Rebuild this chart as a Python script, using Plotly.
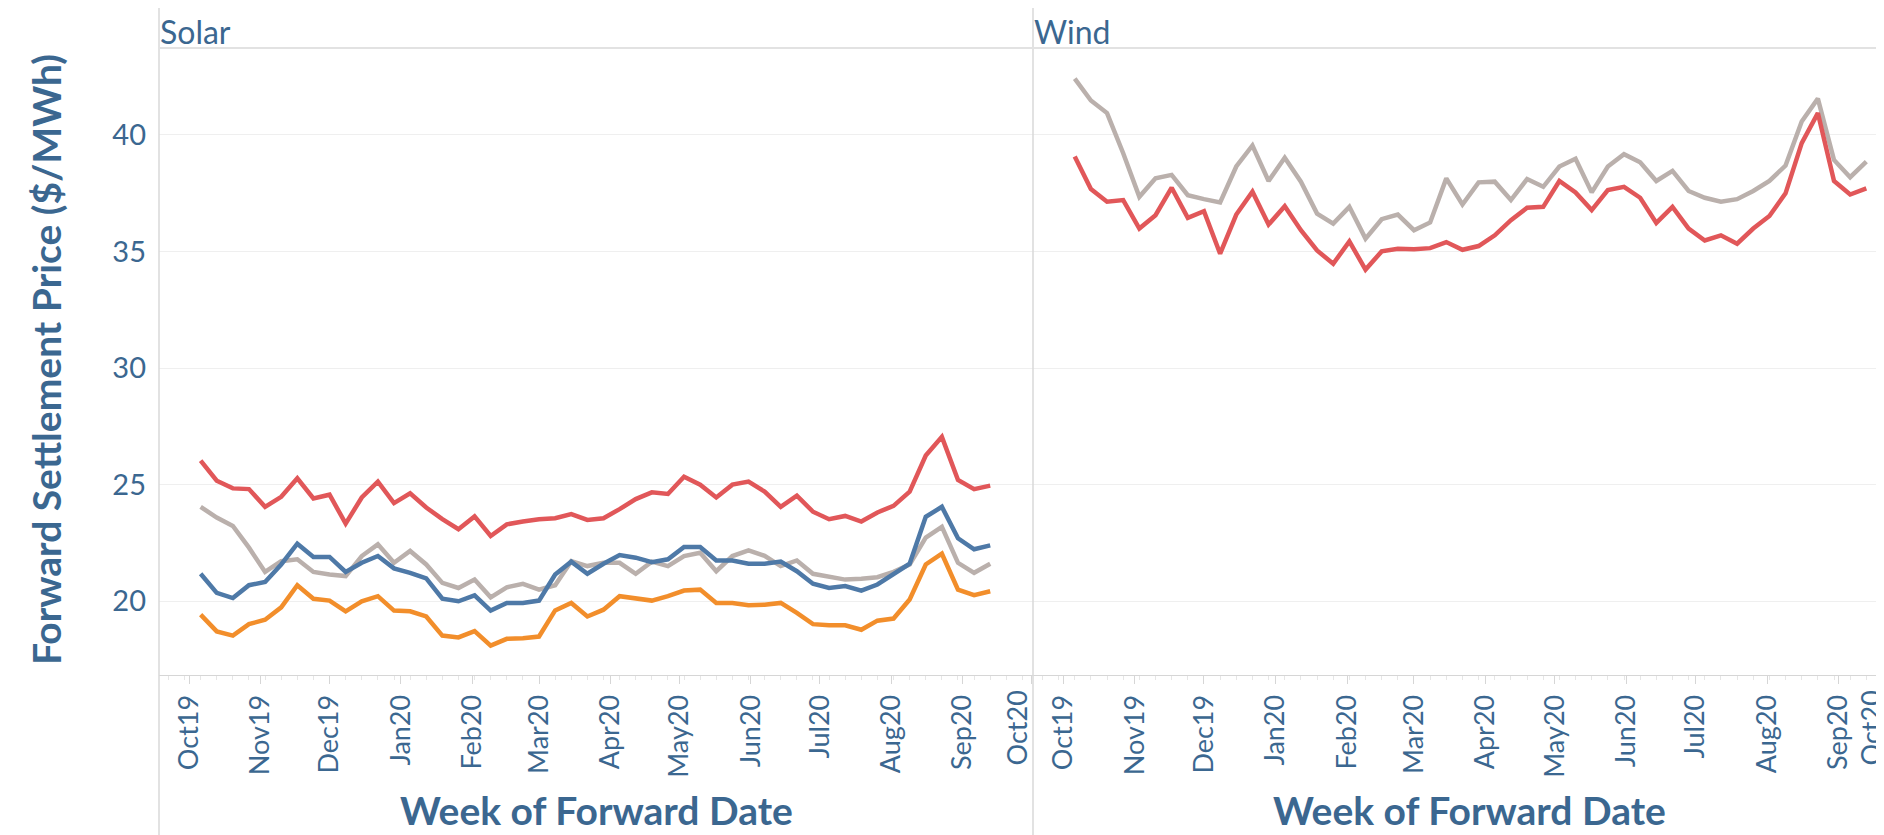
import pandas as pd
import plotly.graph_objects as go

# Weekly forward dates (week starting Sunday)
weeks = pd.date_range("2019-10-06", periods=50, freq="7D")

# Solar panel ($/MWh)
solar_red = [26.03, 25.17, 24.84, 24.81, 24.05, 24.48, 25.27, 24.41, 24.57, 23.33,
             24.45, 25.13, 24.21, 24.63, 24.02, 23.52, 23.09, 23.64, 22.80, 23.30,
             23.42, 23.52, 23.56, 23.74, 23.49, 23.56, 23.95, 24.38, 24.67, 24.60,
             25.34, 25.00, 24.45, 25.00, 25.13, 24.70, 24.05, 24.53, 23.84, 23.52,
             23.66, 23.42, 23.81, 24.09, 24.70, 26.25, 27.05, 25.20, 24.81, 24.96]
solar_gray = [24.05, 23.59, 23.23, 22.30, 21.26, 21.72, 21.80, 21.26, 21.15, 21.08,
              21.94, 22.44, 21.65, 22.16, 21.58, 20.79, 20.57, 20.93, 20.17, 20.60,
              20.75, 20.50, 20.69, 21.72, 21.51, 21.65, 21.65, 21.18, 21.70, 21.51,
              21.94, 22.08, 21.29, 21.94, 22.18, 21.95, 21.51, 21.75, 21.18, 21.03,
              20.93, 20.97, 21.03, 21.26, 21.58, 22.73, 23.19, 21.65, 21.22, 21.61]
solar_blue = [21.18, 20.36, 20.14, 20.69, 20.83, 21.58, 22.47, 21.90, 21.90, 21.26,
              21.65, 21.94, 21.41, 21.22, 20.98, 20.11, 20.00, 20.25, 19.60, 19.93,
              19.93, 20.03, 21.15, 21.70, 21.18, 21.61, 21.98, 21.87, 21.68, 21.80,
              22.33, 22.33, 21.75, 21.75, 21.61, 21.61, 21.70, 21.29, 20.75, 20.57,
              20.65, 20.46, 20.72, 21.15, 21.61, 23.62, 24.05, 22.70, 22.23, 22.40]
solar_orange = [19.43, 18.71, 18.53, 19.02, 19.21, 19.74, 20.69, 20.11, 20.03, 19.57,
                20.00, 20.22, 19.60, 19.57, 19.35, 18.53, 18.45, 18.72, 18.10, 18.39,
                18.42, 18.49, 19.61, 19.93, 19.35, 19.64, 20.22, 20.11, 20.03, 20.22,
                20.46, 20.50, 19.93, 19.93, 19.83, 19.85, 19.93, 19.50, 19.02, 18.97,
                18.97, 18.78, 19.17, 19.26, 20.08, 21.58, 22.04, 20.50, 20.26, 20.43]

# Wind panel
wind_gray = [42.41, 41.47, 40.93, 39.21, 37.34, 38.13, 38.28, 37.41, 37.24, 37.10,
             38.64, 39.54, 38.02, 39.02, 37.99, 36.62, 36.19, 36.91, 35.55, 36.38,
             36.58, 35.91, 36.24, 38.13, 37.01, 37.96, 37.99, 37.20, 38.10, 37.77,
             38.64, 38.97, 37.53, 38.64, 39.17, 38.82, 38.02, 38.45, 37.59, 37.30,
             37.13, 37.24, 37.59, 38.02, 38.68, 40.57, 41.55, 38.92, 38.18, 38.85]
wind_red = [39.07, 37.67, 37.13, 37.20, 35.98, 36.55, 37.73, 36.44, 36.72, 34.90,
            36.58, 37.56, 36.15, 36.94, 35.91, 35.04, 34.47, 35.43, 34.22, 35.00,
            35.11, 35.09, 35.14, 35.40, 35.07, 35.23, 35.69, 36.34, 36.87, 36.91,
            38.02, 37.53, 36.77, 37.63, 37.77, 37.30, 36.22, 36.91, 35.98, 35.47,
            35.69, 35.33, 35.98, 36.52, 37.49, 39.64, 40.93, 38.02, 37.44, 37.70]

y_ticks = [20, 25, 30, 35, 40]

RED, GRAY, BLUE, ORANGE = "#e15759", "#bab0ac", "#4e79a7", "#f28e2b"
TXT = "#3b6790"
FONT = "Lato"
W, H = 1884, 835


def fx(p):
    return p / W


def fy(p):
    return 1 - p / H


fig = go.Figure()

for vals, col in [(solar_gray, GRAY), (solar_blue, BLUE), (solar_orange, ORANGE), (solar_red, RED)]:
    fig.add_trace(go.Scatter(x=weeks, y=vals, mode="lines", line=dict(color=col, width=4.5),
                             xaxis="x", yaxis="y", showlegend=False))
for vals, col in [(wind_gray, GRAY), (wind_red, RED)]:
    fig.add_trace(go.Scatter(x=weeks, y=vals, mode="lines", line=dict(color=col, width=4.5),
                             xaxis="x2", yaxis="y2", showlegend=False))

xcommon = dict(
    type="date", tickformat="%b%y", dtick="M1", tick0="2019-10-01", tickangle=-90,
    ticks="outside", ticklen=8, tickcolor="#d6d6d6", showline=True, linecolor="#d6d6d6",
    showgrid=False, zeroline=False, tickfont=dict(family=FONT, size=27, color=TXT),
    ticklabeloverflow="hide past domain",
    minor=dict(ticks="outside", ticklen=4, dtick=7 * 86400000, tick0="2019-10-06",
               tickcolor="#e6e6e6", showgrid=False),
)
ycommon = dict(
    range=[16.84, 43.72], tickvals=y_ticks, showgrid=True, gridcolor="#efefef",
    zeroline=False, showline=False, ticks="",
)

fig.update_layout(
    width=W, height=H, margin=dict(l=0, r=0, t=0, b=0),
    paper_bgcolor="white", plot_bgcolor="white",
    xaxis=dict(domain=[fx(151), fx(1025)], range=["2019-09-17 22:00", "2020-10-01 14:00"],
               anchor="y", **xcommon),
    xaxis2=dict(domain=[fx(1025), 1], range=["2019-09-17 22:00", "2020-09-24 03:00"],
                anchor="y2", **xcommon),
    yaxis=dict(domain=[fy(667), fy(40)], anchor="x", ticklabelstandoff=12,
               tickfont=dict(family=FONT, size=29, color=TXT), **ycommon),
    yaxis2=dict(domain=[fy(667), fy(40)], anchor="x2", matches="y", showticklabels=False,
                **ycommon),
)

# panel borders and header separator
line_col = "#d9d9d9"
shapes = [
    dict(type="line", xref="paper", yref="paper", x0=fx(151), x1=fx(151), y0=0, y1=1,
         line=dict(color=line_col, width=1.5)),
    dict(type="line", xref="paper", yref="paper", x0=fx(1025), x1=fx(1025), y0=0, y1=1,
         line=dict(color=line_col, width=1.5)),
    dict(type="line", xref="paper", yref="paper", x0=fx(151), x1=1, y0=fy(40), y1=fy(40),
         line=dict(color="#e2e2e2", width=2)),
]
fig.update_layout(shapes=shapes)

title_font = dict(family=FONT, size=39, color=TXT, weight="bold")
tick_font = dict(family=FONT, size=27, color=TXT)
annotations = [
    dict(text="Solar", x=fx(150), y=fy(45), xref="paper", yref="paper", xanchor="left",
         yanchor="bottom", showarrow=False, font=dict(family=FONT, size=32, color=TXT)),
    dict(text="Wind", x=fx(1024), y=fy(45), xref="paper", yref="paper", xanchor="left",
         yanchor="bottom", showarrow=False, font=dict(family=FONT, size=32, color=TXT)),
    dict(text="Forward Settlement Price ($/MWh)", x=fx(38), y=fy(352), xref="paper",
         yref="paper", textangle=-90, xanchor="center", yanchor="middle", showarrow=False,
         font=title_font),
    dict(text="Week of Forward Date", x=fx(588), y=fy(802), xref="paper", yref="paper",
         xanchor="center", yanchor="middle", showarrow=False, font=title_font),
    dict(text="Week of Forward Date", x=fx(1461), y=fy(802), xref="paper", yref="paper",
         xanchor="center", yanchor="middle", showarrow=False, font=title_font),
    # Oct20 labels pushed inside the panel edges
    dict(text="Oct20", x=fx(1008), y=fy(681), xref="paper", yref="paper", textangle=-90,
         xanchor="center", yanchor="top", showarrow=False, font=tick_font),
    dict(text="Oct20", x=fx(1862), y=fy(681), xref="paper", yref="paper", textangle=-90,
         xanchor="center", yanchor="top", showarrow=False, font=tick_font),
]
fig.update_layout(annotations=annotations)

fig.write_html("out.html")
